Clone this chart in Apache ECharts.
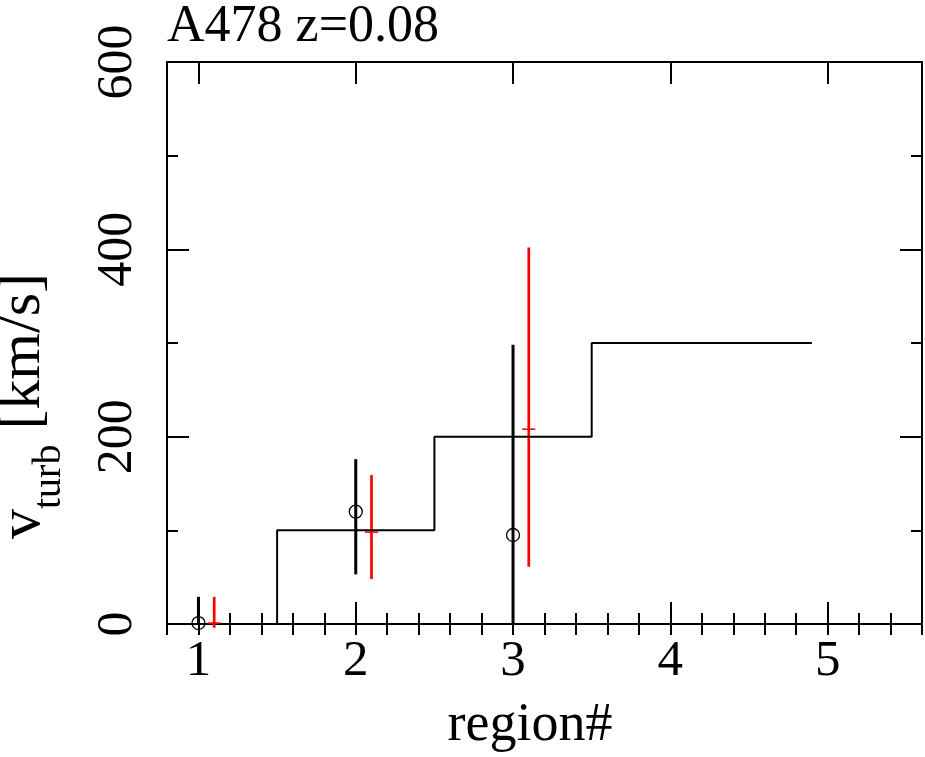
<!DOCTYPE html>
<html><head><meta charset="utf-8">
<script src="https://cdn.jsdelivr.net/npm/echarts@6/dist/echarts.min.js"></script>
<style>html,body{margin:0;padding:0;background:#fff}#c{width:925px;height:757px}</style>
</head><body><div id="c"></div>
<script>
// ---- data ----
const titleText = 'A478 z=0.08';
const xAxisTitle = 'region#';
const xTickValues = [1, 2, 3, 4, 5];
const yTickValues = [0, 200, 400, 600];
// step line: level changes at these x positions
const stepStarts = [1.5, 2.5, 3.5];
const stepValues = [100, 200, 300];
const stepBase = 0;
const stepEnd = 4.9;
// black points (open circles) with error bars
const blackX = [1, 2, 3];
const blackY = [1, 120, 95];
const blackLow = [0, 53, 0];
const blackHigh = [29, 176, 298];
// red points (plus) with error bars
const redX = [1.1, 2.1, 3.1];
const redY = [1, 98, 208];
const redLow = [-4, 48, 61];
const redHigh = [29, 159, 402];

const FONT = '"Liberation Serif","Times New Roman",serif';

const stepPts = [];
let prev = stepBase;
stepStarts.forEach((s, i) => { stepPts.push([s, prev]); stepPts.push([s, stepValues[i]]); prev = stepValues[i]; });
stepPts.push([stepEnd, prev]);

const blackData = blackX.map((x, i) => [x, blackY[i], blackLow[i], blackHigh[i]]);
const redData = redX.map((x, i) => [x, redY[i], redLow[i], redHigh[i]]);

function errRender(color, width, marker) {
  return function (params, api) {
    const x = api.value(0), y = api.value(1), lo = api.value(2), hi = api.value(3);
    const pLo = api.coord([x, lo]), pHi = api.coord([x, hi]), p = api.coord([x, y]);
    const children = [{ type: 'line', shape: { x1: pLo[0], y1: pLo[1], x2: pHi[0], y2: pHi[1] },
      style: { stroke: color, lineWidth: width } }];
    if (marker === 'circle') {
      children.push({ type: 'circle', shape: { cx: p[0], cy: p[1], r: 6.5 },
        style: { fill: 'none', stroke: color, lineWidth: 1.3 } });
    } else {
      children.push({ type: 'line', shape: { x1: p[0] - 6.5, y1: p[1], x2: p[0] + 6.5, y2: p[1] },
        style: { stroke: color, lineWidth: 1.5 } });
    }
    return { type: 'group', children };
  };
}

const X_MIN = 0.8, X_MAX = 5.6, Y_MIN = 0, Y_MAX = 600;
const lineStyle = { color: '#000', width: 2 };

function xMajor(pos, showLabel) {
  return {
    type: 'value', position: pos, min: X_MIN, max: X_MAX,
    axisLine: { show: true, onZero: false, lineStyle },
    splitLine: { show: false },
    axisTick: { show: true, inside: true, length: 22, customValues: xTickValues, lineStyle },
    axisLabel: { show: showLabel, customValues: xTickValues, fontFamily: FONT, fontSize: 51, color: '#000', margin: 12 }
  };
}
function xMinor(pos) {
  return {
    type: 'value', position: pos, min: X_MIN, max: X_MAX, interval: 0.2,
    axisLine: { show: false }, splitLine: { show: false },
    axisTick: { show: true, inside: true, length: 11, lineStyle },
    axisLabel: { show: false }
  };
}
function yAxis(pos, showLabel) {
  return {
    type: 'value', position: pos, min: Y_MIN, max: Y_MAX, interval: 200,
    axisLine: { show: true, onZero: false, lineStyle },
    splitLine: { show: false },
    axisTick: { show: true, inside: true, length: 22, lineStyle },
    minorTick: { show: true, splitNumber: 2, length: 11, lineStyle: { color: '#000', width: 2 } },
    axisLabel: { show: showLabel, customValues: yTickValues, rotate: 90, fontFamily: FONT, fontSize: 50, color: '#000', margin: 24 }
  };
}

const chart = echarts.init(document.getElementById('c'));
chart.setOption({
  animation: false,
  backgroundColor: '#fff',
  grid: { left: 167, right: 3, top: 62, bottom: 133, containLabel: false },
  xAxis: [xMajor('bottom', true), xMinor('bottom'), xMajor('top', false), xMinor('top')],
  yAxis: [yAxis('left', true), yAxis('right', false)],
  graphic: [
    { type: 'text', left: 167, top: 1, style: { text: titleText, font: '52px ' + FONT, fill: '#000' } },
    { type: 'text', x: 530, y: 753, style: { text: xAxisTitle, font: '54px ' + FONT, fill: '#000', align: 'center', verticalAlign: 'bottom' } },
    { type: 'text', x: 31, y: 406, rotation: Math.PI / 2,
      style: { text: '{v|v}{s|turb}{n| [km/s]}', fill: '#000', align: 'center', verticalAlign: 'middle',
        rich: {
          v: { fontFamily: FONT, fontSize: 60, verticalAlign: 'bottom', padding: [0, 0, 16, 0] },
          s: { fontFamily: FONT, fontSize: 40, verticalAlign: 'bottom' },
          n: { fontFamily: FONT, fontSize: 60, verticalAlign: 'bottom', padding: [0, 0, 16, 0] }
        } } }
  ],
  series: [
    { type: 'line', xAxisIndex: 0, yAxisIndex: 0, data: stepPts, showSymbol: false, symbol: 'none',
      lineStyle: { color: '#000', width: 2 }, silent: true },
    { type: 'custom', xAxisIndex: 0, yAxisIndex: 0, data: blackData, renderItem: errRender('#000', 3, 'circle'), clip: false, silent: true },
    { type: 'custom', xAxisIndex: 0, yAxisIndex: 0, data: redData, renderItem: errRender('#ff0000', 2.7, 'plus'), clip: false, silent: true }
  ]
});
</script></body></html>
